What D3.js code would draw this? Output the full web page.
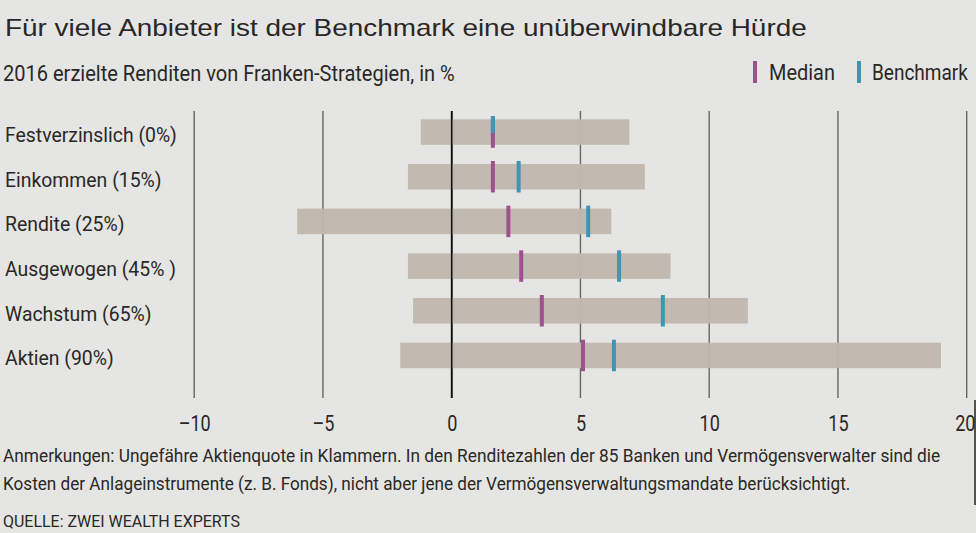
<!DOCTYPE html>
<html><head><meta charset="utf-8">
<script src="https://cdn.jsdelivr.net/npm/d3@7"></script>
<style>
html,body{margin:0;padding:0;background:#e5e5e3;}
svg{display:block;}
.cond{font-family:"Roboto","Liberation Sans",sans-serif;}
</style></head>
<body>
<svg id="c" width="976" height="533"></svg>
<script>
// ---- data ----
const categories = ["Festverzinslich (0%)","Einkommen (15%)","Rendite (25%)","Ausgewogen (45% )","Wachstum (65%)","Aktien (90%)"];
const minValues = [-1.2, -1.7, -6.0, -1.7, -1.5, -2.0];
const maxValues = [6.9, 7.5, 6.2, 8.5, 11.5, 19.0];
const medianValues = [1.6, 1.6, 2.2, 2.7, 3.5, 5.1];
const benchmarkValues = [1.6, 2.6, 5.3, 6.5, 8.2, 6.3];
const tickValues = [-10, -5, 0, 5, 10, 15, 20];
const tickLabels = ["\u201310", "\u20135", "0", "5", "10", "15", "20"];
const title = "Für viele Anbieter ist der Benchmark eine unüberwindbare Hürde";
const subtitle = "2016 erzielte Renditen von Franken-Strategien, in %";
const legendLabels = ["Median", "Benchmark"];
const noteLines = ["Anmerkungen: Ungefähre Aktienquote in Klammern. In den Renditezahlen der 85 Banken und Vermögensverwalter sind die",
                   "Kosten der Anlageinstrumente (z. B. Fonds), nicht aber jene der Vermögensverwaltungsmandate berücksichtigt."];
const source = "QUELLE: ZWEI WEALTH EXPERTS";

// ---- styles ----
const colText = "#2a2826", colBar = "#c0b8ae", colMedian = "#a0508f", colBench = "#3e96b4";
const svg = d3.select("#c");

const x = d3.scaleLinear().domain([-10, 20]).range([194.2, 966.7]);
const y = d3.scaleBand().domain(categories).range([119.3, 368.2]).paddingInner(0.429).paddingOuter(0);

// place text and squeeze horizontally to a target width (via transform)
function place(txt, px, py, size, w, cls, family){
  const t = svg.append("text").attr("fill",colText).style("font-size",size+"px").text(txt);
  if (cls) t.attr("class",cls);
  if (family) t.style("font-family",family);
  const nat = t.node().getComputedTextLength();
  const k = w / nat;
  t.attr("transform",`translate(${px},${py}) scale(${k},1)`);
  return t;
}

// title
place(title, 5, 35.7, 23, 802, null, "'Liberation Sans','Open Sans',sans-serif");
// subtitle
place(subtitle, 3, 81, 22, 452, "cond");

// legend
const legX = [753, 857], legTX = [769, 872], legW = [66, 96], legC = [colMedian, colBench];
legendLabels.forEach((l,i)=>{
  svg.append("rect").attr("x",legX[i]).attr("y",61).attr("width",4).attr("height",22).attr("fill",legC[i]);
  place(l, legTX[i], 80, 22, legW[i], "cond");
});

// gridlines
svg.append("g").selectAll("line").data(tickValues).join("line")
  .attr("x1",d=>x(d)).attr("x2",d=>x(d)).attr("y1",111).attr("y2",398)
  .attr("stroke",d=>d===0?"#111":"#666").attr("stroke-width",d=>d===0?1.6:1.4);

// bars
const rows = categories.map((c,i)=>({c, lo:minValues[i], hi:maxValues[i], med:medianValues[i], ben:benchmarkValues[i]}));
svg.append("g").selectAll("rect").data(rows).join("rect")
  .attr("x",d=>x(d.lo)).attr("width",d=>x(d.hi)-x(d.lo))
  .attr("y",d=>y(d.c)).attr("height",y.bandwidth())
  .attr("fill",colBar).attr("fill-opacity",0.97);
// zero line over bars
svg.append("line").attr("x1",x(0)).attr("x2",x(0)).attr("y1",111).attr("y2",398)
  .attr("stroke","#111").attr("stroke-width",1.6);

// markers
const ext = 3;
svg.append("g").selectAll("rect").data(rows).join("rect")
  .attr("x",d=>x(d.med)-2).attr("width",4)
  .attr("y",d=>y(d.c)-ext).attr("height",y.bandwidth()+2*ext).attr("fill",colMedian);
svg.append("g").selectAll("rect").data(rows).join("rect")
  .attr("x",d=>x(d.ben)-2).attr("width",4)
  .attr("y",d=>y(d.c)-ext)
  .attr("height",d=> d.ben===d.med ? (y.bandwidth()+2*ext)/2 + 1 : y.bandwidth()+2*ext)
  .attr("fill",colBench);

// category labels (common horizontal squeeze so the first label matches its width)
const lab = svg.append("g").selectAll("text").data(categories).join("text")
  .attr("class","cond").style("font-size","21px").attr("fill",colText).text(d=>d);
const k = 172 / lab.nodes()[0].getComputedTextLength();
lab.attr("transform",d=>`translate(5,${y(d)+y.bandwidth()/2+10}) scale(${k},1)`);

// x axis labels
const axis = d3.axisBottom(x).tickValues(tickValues).tickSize(0).tickPadding(0)
  .tickFormat((d,i)=>tickLabels[i]);
const ag = svg.append("g").attr("transform","translate(0,415)").call(axis);
ag.select(".domain").remove();
ag.selectAll("text").attr("class","cond").style("font-size","22px").attr("fill",colText)
  .attr("dy","0").attr("y",0).attr("text-anchor","middle")
  .attr("transform","translate(0,16) scale(0.82,1)");
ag.selectAll(".tick text").filter(d=>d===20).attr("text-anchor","end")
  .attr("transform",`translate(${975 - x(20)},16) scale(0.82,1)`);

// notes
const noteW = [938, 848];
noteLines.forEach((t,i)=>{ place(t, 3, 461.7+i*28.3, 17.5, noteW[i], "cond"); });
place(source, 3, 526.7, 17, 237, "cond");

// right edge line
svg.append("line").attr("x1",975).attr("x2",975).attr("y1",400).attr("y2",505).attr("stroke","#222").attr("stroke-width",1.5);
</script>
</body></html>
